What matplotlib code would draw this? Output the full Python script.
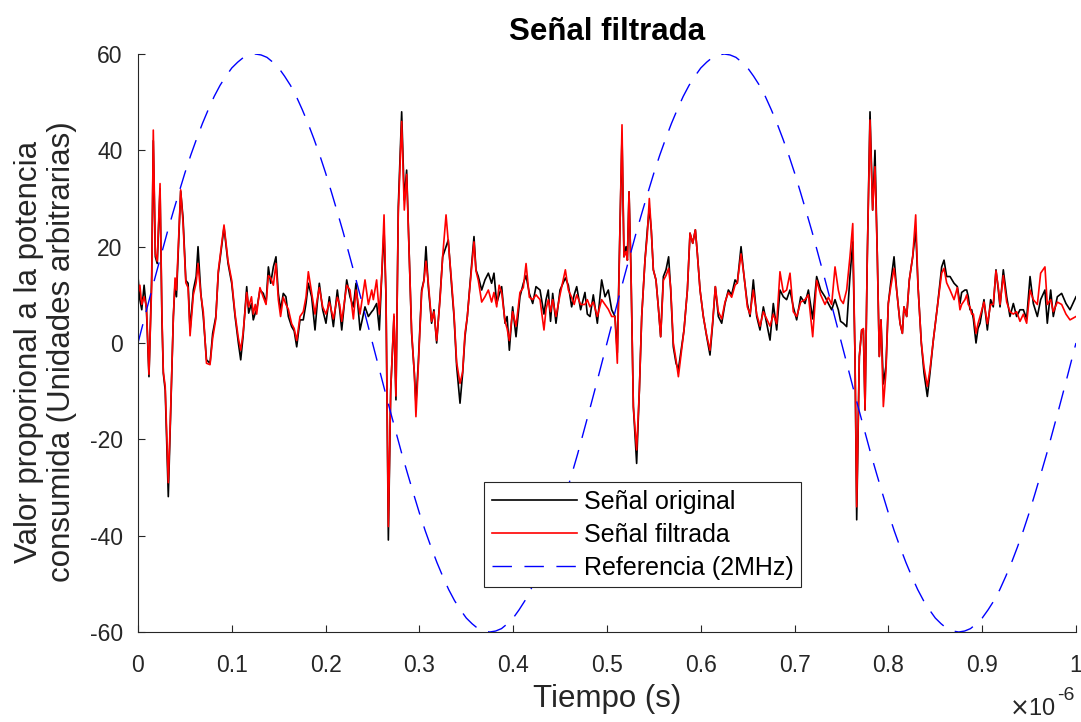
#!/usr/bin/env python3
# -*- coding: utf-8 -*-
"""
Senal original / filtrada vs referencia de 2 MHz.
Valores leidos a ojo de la grafica (tiempo en microsegundos).
"""
import matplotlib
matplotlib.use("Agg")
import matplotlib.pyplot as plt
from matplotlib.ticker import FuncFormatter
import numpy as np

# tiempo (x 1e-6 s)
tiempo_us = [
    0.000, 0.002, 0.004, 0.0065, 0.009, 0.0117, 0.0146, 0.0163, 0.0185, 0.0205,
    0.0235, 0.0255, 0.027, 0.029, 0.0323, 0.0345, 0.0377, 0.0395, 0.041, 0.0455,
    0.048, 0.051, 0.0534, 0.0555, 0.059, 0.062, 0.064, 0.067, 0.0696, 0.073,
    0.0768, 0.0796, 0.083, 0.0856, 0.0917, 0.096, 0.0999, 0.1035, 0.107, 0.1095,
    0.112, 0.1159, 0.118, 0.121, 0.1229, 0.125, 0.1265, 0.1300, 0.1336, 0.1365,
    0.139, 0.1415, 0.1443, 0.1471, 0.1496, 0.152, 0.1549, 0.1577, 0.1603, 0.1638,
    0.1665, 0.1692, 0.1727, 0.1762, 0.1791, 0.1816, 0.1851, 0.1887, 0.191, 0.1933,
    0.1969, 0.2004, 0.204, 0.2083, 0.2125, 0.215, 0.2172, 0.2225, 0.226, 0.2296,
    0.2324, 0.2367, 0.242, 0.2456, 0.2492, 0.2509, 0.2544, 0.2573, 0.2598, 0.2623,
    0.2644, 0.2669, 0.2694, 0.2729, 0.275, 0.2775, 0.2811, 0.2839, 0.2864, 0.2892,
    0.2917, 0.2946, 0.2963, 0.2988, 0.3024, 0.3049, 0.307, 0.3095, 0.313, 0.3155,
    0.3184, 0.322, 0.3248, 0.3284, 0.3308, 0.3344, 0.3369, 0.3397, 0.3433, 0.3461,
    0.3486, 0.3511, 0.354, 0.3582, 0.3603, 0.3628, 0.3664, 0.3699, 0.3735, 0.377,
    0.3795, 0.3824, 0.385, 0.3877, 0.3913, 0.3935, 0.3959, 0.3994, 0.403, 0.4072,
    0.4108, 0.4137, 0.4172, 0.4208, 0.4243, 0.4286, 0.4328, 0.435, 0.4374, 0.4398,
    0.4421, 0.4456, 0.4499, 0.4556, 0.4588, 0.4623, 0.465, 0.4677, 0.4719, 0.4765,
    0.479, 0.4819, 0.4854, 0.4897, 0.4943, 0.4979, 0.5014, 0.505, 0.5085, 0.511,
    0.5139, 0.516, 0.5181, 0.5203, 0.5217, 0.5235, 0.5256, 0.5281, 0.5316, 0.5345,
    0.537, 0.5405, 0.543, 0.5451, 0.5472, 0.5494, 0.5522, 0.5547, 0.5572, 0.5601,
    0.5629, 0.5657, 0.5679, 0.5707, 0.5736, 0.5761, 0.5786, 0.5821, 0.5857, 0.5885,
    0.5914, 0.5942, 0.5963, 0.5992, 0.6027, 0.6063, 0.6098, 0.6127, 0.6155, 0.6187,
    0.6223, 0.6258, 0.6294, 0.6329, 0.6365, 0.6389, 0.6429, 0.6461, 0.6496, 0.6525,
    0.656, 0.6596, 0.6631, 0.6667, 0.6702, 0.6738, 0.6773, 0.6809, 0.6844, 0.688,
    0.6915, 0.6951, 0.6986, 0.7022, 0.7065, 0.7111, 0.7147, 0.7193, 0.7235, 0.7278,
    0.7324, 0.736, 0.7395, 0.7431, 0.7466, 0.749, 0.7519, 0.7555, 0.759, 0.762,
    0.7644, 0.7662, 0.769, 0.7715, 0.7733, 0.7751, 0.7775, 0.7804, 0.7832, 0.7857,
    0.7882, 0.7903, 0.7921, 0.7946, 0.7974, 0.7999, 0.8024, 0.806, 0.8088, 0.8124,
    0.8149, 0.8166, 0.8195, 0.8223, 0.8259, 0.8291, 0.8316, 0.8351, 0.838, 0.8415,
    0.8443, 0.8479, 0.8522, 0.8568, 0.8593, 0.8621, 0.8657, 0.87, 0.8735, 0.8763,
    0.8781, 0.8816, 0.8835, 0.8852, 0.887, 0.8888, 0.8906, 0.8934, 0.8955, 0.8977,
    0.9019, 0.9055, 0.909, 0.9118, 0.9147, 0.9172, 0.919, 0.9225, 0.9261, 0.9296,
    0.9332, 0.9367, 0.9403, 0.9439, 0.9474, 0.951, 0.9545, 0.9588, 0.9623, 0.9669,
    0.9694, 0.973, 0.9758, 0.9801, 0.9847, 0.9893, 0.9936, 1.000,
]

senal_original = [
    13.8, 9.0, 6.9, 12.0, 6.9, -7.0, 14.0, 42.0, 17.9, 16.5,
    32.0, 5.0, -6.3, -9.8, -31.9, -16.7, 5.5, 12.4, 9.6, 31.5,
    26.0, 13.0, 12.4, 2.7, 11.0, 13.8, 20.0, 10.3, 5.5, -3.5,
    -4.2, 2.0, 5.5, 14.5, 24.0, 16.5, 12.4, 5.5, 0.0, -3.5,
    1.3, 11.7, 6.2, 8.2, 4.8, 6.2, 6.9, 11.0, 10.3, 8.2,
    15.8, 12.4, 15.8, 17.9, 10.3, 6.9, 10.3, 9.6, 5.5, 3.4,
    2.5, -0.8, 4.8, 4.8, 8.2, 12.4, 9.6, 2.7, 8.0, 12.4,
    6.9, 4.1, 9.6, 3.4, 11.0, 7.0, 2.7, 13.1, 9.6, 7.5,
    12.4, 2.7, 7.5, 5.5, 6.5, 6.9, 8.2, 2.7, 13.8, 23.5,
    9.6, -40.9, -9.8, 5.5, -11.8, 28.3, 48.0, 29.7, 35.9, 17.9,
    2.0, -6.3, -12.5, -4.2, 11.0, 13.1, 20.0, 11.7, 4.1, 6.9,
    0.0, 9.6, 17.9, 20.0, 21.4, 11.7, 5.5, -4.8, -12.5, -6.3,
    1.3, 5.5, 12.4, 22.1, 15.2, 13.8, 11.0, 13.1, 14.5, 12.4,
    14.5, 8.2, 10.0, 11.7, 4.1, 5.5, -1.5, 7.5, 1.3, 9.6,
    12.4, 14.0, 10.3, 8.2, 11.7, 11.0, 6.0, 9.0, 11.0, 4.5,
    10.3, 4.1, 11.0, 13.5, 12.0, 7.5, 10.0, 11.7, 6.9, 10.5,
    6.0, 5.5, 10.0, 4.1, 13.1, 9.6, 11.0, 6.9, 5.5, -2.0,
    24.8, 43.0, 17.9, 20.0, 17.2, 31.4, 14.5, -13.2, -25.0, -9.8,
    5.5, 17.2, 23.5, 28.0, 23.5, 15.2, 13.1, 7.5, 1.3, 13.8,
    15.2, 17.9, 11.0, -0.8, -4.2, -5.5, -2.1, 2.7, 11.0, 22.8,
    20.7, 23.5, 18.6, 11.0, 5.5, 1.3, -2.5, 4.1, 11.7, 5.5,
    4.1, 8.2, 11.0, 10.0, 13.1, 12.4, 20.0, 13.8, 8.2, 5.5,
    13.1, 5.5, 2.7, 7.5, 4.1, 0.6, 8.2, 2.7, 11.0, 9.6,
    9.0, 11.0, 7.5, 4.8, 9.6, 8.2, 11.0, 5.0, 13.8, 11.0,
    9.6, 8.2, 6.9, 9.0, 6.9, 4.5, 4.1, 3.4, 13.8, 21.0,
    -2.8, -36.7, -2.8, 2.7, 2.7, -13.9, 17.9, 48.0, 27.6, 40.0,
    17.9, -2.8, 4.8, -8.5, -4.8, 8.2, 12.4, 17.9, 11.0, 4.1,
    2.0, 7.5, 5.5, 13.1, 17.9, 23.5, 11.7, 0.0, -6.3, -11.1,
    -6.3, 0.6, 7.5, 15.8, 17.2, 13.8, 13.8, 12.4, 11.7, 8.2,
    10.5, 11.0, 11.0, 9.6, 6.9, 6.9, 5.0, 0.0, 3.0, 4.1,
    9.0, 2.7, 9.0, 7.5, 15.2, 11.0, 7.5, 15.2, 9.6, 5.5,
    8.2, 5.5, 6.9, 6.9, 5.0, 13.8, 8.2, 5.5, 9.0, 11.0,
    4.1, 11.0, 5.5, 9.6, 10.3, 8.2, 6.9, 9.6,
]

senal_filtrada = [
    10.3, 12.0, 8.0, 9.6, 7.5, -6.5, 12.0, 44.2, 18.5, 17.0,
    33.1, 6.0, -6.0, -9.0, -29.0, -16.0, 5.5, 13.5, 11.0, 31.8,
    25.0, 12.5, 11.5, 1.5, 10.0, 12.5, 16.5, 10.0, 6.5, -4.2,
    -4.5, 1.0, 5.0, 15.0, 24.5, 17.0, 13.0, 6.0, 1.0, -1.5,
    2.0, 10.5, 7.5, 9.6, 6.0, 8.0, 6.0, 11.5, 9.5, 8.0,
    14.0, 13.5, 12.0, 16.5, 9.0, 5.5, 9.5, 8.0, 7.0, 4.0,
    3.0, 0.5, 5.5, 6.5, 9.5, 14.8, 10.5, 6.0, 9.0, 11.5,
    7.5, 6.0, 8.5, 5.0, 9.5, 8.0, 4.5, 12.0, 11.0, 5.0,
    11.0, 6.0, 13.1, 8.0, 11.0, 9.0, 13.1, 6.0, 13.8, 26.6,
    9.6, -38.1, -9.8, 6.0, -11.0, 27.0, 46.0, 27.6, 35.0, 17.9,
    2.5, -6.3, -15.3, -5.0, 10.5, 13.0, 17.0, 12.5, 4.5, 6.5,
    0.5, 9.0, 18.0, 26.6, 21.0, 12.5, 6.0, -4.0, -8.4, -6.0,
    2.0, 5.5, 12.0, 21.0, 15.0, 13.0, 8.5, 9.6, 11.0, 8.5,
    10.5, 7.5, 12.0, 10.5, 4.5, 3.0, 0.5, 6.5, 3.5, 10.5,
    11.5, 16.5, 9.5, 9.0, 10.0, 9.0, 2.7, 7.0, 9.0, 6.5,
    9.0, 5.5, 10.0, 15.2, 11.0, 9.5, 8.0, 10.0, 8.0, 8.0,
    9.0, 7.5, 8.5, 5.5, 9.0, 8.0, 7.0, 5.5, 5.5, -4.2,
    24.8, 45.3, 17.9, 19.0, 17.2, 31.4, 14.5, -13.2, -22.2, -9.8,
    5.5, 17.2, 22.5, 30.0, 23.5, 15.2, 13.1, 7.5, 1.3, 13.0,
    14.0, 15.5, 11.5, 0.0, -3.5, -7.0, -3.0, 2.7, 11.0, 22.8,
    20.7, 23.5, 18.6, 11.0, 5.5, 1.5, -1.5, 4.5, 11.7, 6.5,
    5.0, 8.5, 10.5, 9.5, 12.0, 12.5, 18.5, 14.0, 7.5, 6.0,
    11.0, 6.0, 3.5, 6.5, 5.0, 3.5, 6.0, 4.0, 14.8, 10.5,
    11.0, 14.5, 6.5, 5.5, 8.5, 9.0, 10.0, 1.3, 13.0, 10.0,
    8.0, 9.5, 8.0, 15.8, 11.0, 9.0, 8.2, 11.0, 17.9, 24.8,
    -2.8, -34.0, -2.8, 2.7, 3.0, -13.9, 17.9, 46.3, 27.6, 36.6,
    17.9, -2.8, 4.8, -13.2, -6.0, 8.2, 11.5, 15.5, 11.0, 4.1,
    2.0, 7.5, 5.5, 13.1, 17.9, 26.6, 11.7, 0.0, -5.0, -9.0,
    -5.5, 0.6, 7.5, 14.5, 15.5, 12.5, 11.0, 9.0, 11.5, 6.9,
    8.0, 9.0, 10.0, 8.0, 7.5, 6.0, 6.0, 2.0, 4.0, 5.5,
    8.5, 4.0, 8.0, 8.0, 15.0, 11.5, 8.0, 14.0, 8.5, 6.5,
    6.0, 6.5, 4.5, 6.0, 4.1, 11.0, 9.0, 8.0, 14.5, 15.8,
    8.0, 9.0, 6.5, 8.5, 8.0, 6.0, 4.8, 5.5,
]

# referencia de 2 MHz, leida cada 0.00625 us
referencia = [
    0.0, 4.7, 9.4, 14.0, 18.5, 23.0, 27.2, 31.3, 35.3, 39.0,
    42.4, 45.6, 48.5, 51.2, 53.5, 55.4, 57.1, 58.3, 59.3, 59.8,
    60.0, 59.8, 59.3, 58.3, 57.1, 55.4, 53.5, 51.2, 48.5, 45.6,
    42.4, 39.0, 35.3, 31.3, 27.2, 23.0, 18.5, 14.0, 9.4, 4.7,
    0.0, -4.7, -9.4, -14.0, -18.5, -23.0, -27.2, -31.3, -35.3, -39.0,
    -42.4, -45.6, -48.5, -51.2, -53.5, -55.4, -57.1, -58.3, -59.3, -59.8,
    -60.0, -59.8, -59.3, -58.3, -57.1, -55.4, -53.5, -51.2, -48.5, -45.6,
    -42.4, -39.0, -35.3, -31.3, -27.2, -23.0, -18.5, -14.0, -9.4, -4.7,
    0.0, 4.7, 9.4, 14.0, 18.5, 23.0, 27.2, 31.3, 35.3, 39.0,
    42.4, 45.6, 48.5, 51.2, 53.5, 55.4, 57.1, 58.3, 59.3, 59.8,
    60.0, 59.8, 59.3, 58.3, 57.1, 55.4, 53.5, 51.2, 48.5, 45.6,
    42.4, 39.0, 35.3, 31.3, 27.2, 23.0, 18.5, 14.0, 9.4, 4.7,
    0.0, -4.7, -9.4, -14.0, -18.5, -23.0, -27.2, -31.3, -35.3, -39.0,
    -42.4, -45.6, -48.5, -51.2, -53.5, -55.4, -57.1, -58.3, -59.3, -59.8,
    -60.0, -59.8, -59.3, -58.3, -57.1, -55.4, -53.5, -51.2, -48.5, -45.6,
    -42.4, -39.0, -35.3, -31.3, -27.2, -23.0, -18.5, -14.0, -9.4, -4.7,
    0.0,
]
tiempo_ref_us = np.linspace(0, 1, len(referencia))

x_ticks = [0, 0.1, 0.2, 0.3, 0.4, 0.5, 0.6, 0.7, 0.8, 0.9, 1]
y_ticks = [-60, -40, -20, 0, 20, 40, 60]

gris = '#262626'
plt.rcParams['font.family'] = ['Liberation Sans', 'DejaVu Sans']

fig = plt.figure(figsize=(10.81, 7.22), dpi=100)
ax = fig.add_axes([138/1081, 1-632/722, (1076-138)/1081, (632-54)/722])

ax.plot(tiempo_us, senal_original, color='k', lw=1.2, label='Señal original')
ax.plot(tiempo_us, senal_filtrada, color='#ff0000', lw=1.2, label='Señal filtrada')
ax.plot(tiempo_ref_us, referencia, color='#0000ff', lw=1.0,
        linestyle=(0, (14, 9)), label='Referencia (2MHz)')

ax.set_xlim(0, 1)
ax.set_ylim(-60, 60)
ax.set_xticks(x_ticks)
ax.set_yticks(y_ticks)
fmt = FuncFormatter(lambda v, p: '%g' % v)
ax.xaxis.set_major_formatter(fmt)
ax.yaxis.set_major_formatter(fmt)

for s in ('top', 'right'):
    ax.spines[s].set_visible(False)
for s in ('left', 'bottom'):
    ax.spines[s].set_color(gris)
    ax.spines[s].set_linewidth(0.8)
ax.tick_params(direction='in', length=5, width=0.8, colors=gris, labelsize=16.5)
ax.tick_params(axis='x', pad=16)
ax.tick_params(axis='y', pad=11)

ax.set_title('Señal filtrada', fontsize=22.5, fontweight='bold', pad=10)
ax.set_xlabel('Tiempo (s)', fontsize=22.5, color=gris)
ax.xaxis.set_label_coords(0.5, -0.09)
ax.set_ylabel('Valor proporional a la potencia\nconsumida (Unidades arbitrarias)',
              fontsize=22.5, color=gris, linespacing=1.15)
ax.yaxis.set_label_coords(-0.065, 0.485)

# exponente del eje x
ax.text(1056/1081, 1-709/722, r'$\times$10', transform=fig.transFigure,
        ha='right', va='center', fontsize=17, color=gris)
ax.text(1057/1081, 1-695/722, '-6', transform=fig.transFigure,
        ha='left', va='center', fontsize=14, color=gris)

leg = ax.legend(loc='upper left', bbox_to_anchor=(484/1081, 1-482/722),
                bbox_transform=fig.transFigure, fontsize=18, fancybox=False,
                framealpha=1, edgecolor=gris, handlelength=3.4,
                handletextpad=0.28, borderpad=0.3, labelspacing=0.36,
                borderaxespad=0)
leg.get_frame().set_linewidth(0.8)

plt.savefig('out.png', dpi=100)
